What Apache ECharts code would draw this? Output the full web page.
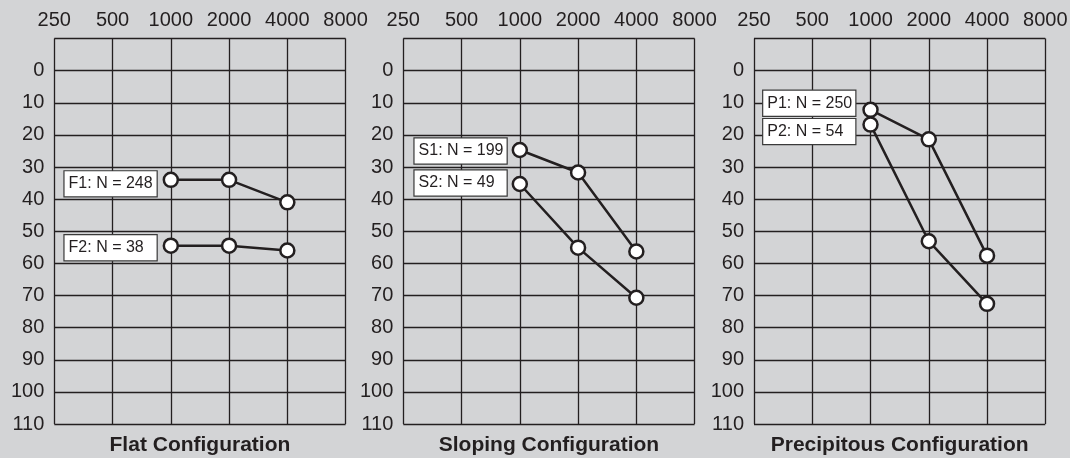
<!DOCTYPE html>
<html><head><meta charset="utf-8">
<style>html,body{margin:0;padding:0;background:#d3d4d6;}#c{width:1070px;height:458px;}</style>
<script src="https://cdn.jsdelivr.net/npm/echarts@6/dist/echarts.min.js"></script>
</head><body><div id="c"></div>
<script>
const freqs = ['250','500','1000','2000','4000','8000'];
const yTicks = [-10,0,10,20,30,40,50,60,70,80,90,100,110];
const titles = ['Flat Configuration','Sloping Configuration','Precipitous Configuration'];
const F1 = [null,null,34,34,41,null];
const F2 = [null,null,54.5,54.5,56,null];
const S1 = [null,null,24.7,31.7,56.3,null];
const S2 = [null,null,35.3,55.1,70.7,null];
const P1 = [null,null,12.2,21.4,57.6,null];
const P2 = [null,null,16.8,53.1,72.6,null];
const seriesDefs = [
  {name:'F1: N = 248', data:F1, panel:0, dy:4},
  {name:'F2: N = 38', data:F2, panel:0, dy:2},
  {name:'S1: N = 199', data:S1, panel:1, dy:1},
  {name:'S2: N = 49', data:S2, panel:1, dy:-1},
  {name:'P1: N = 250', data:P1, panel:2, dy:-6.5},
  {name:'P2: N = 54', data:P2, panel:2, dy:7}
];
const ink = '#231f20';
const font = 'Liberation Sans, Arial, sans-serif';
const lefts = [54.3, 403.3, 754];
const labelDist = [6, 5, 7];
const grids = [], xAxes = [], yAxes = [];
for (let i=0;i<3;i++){
  grids.push({left:lefts[i], width:291.3, top:38.5, height:385.5, outerBoundsMode:'none', containLabel:false});
  xAxes.push({type:'category', gridIndex:i, position:'top', data:freqs, boundaryGap:false,
    axisLine:{show:false}, axisTick:{show:false},
    axisLabel:{color:ink, fontSize:20, fontFamily:font, margin:8, interval:0},
    splitLine:{show:true, interval:0, lineStyle:{color:ink, width:1.3}}});
  xAxes.push({type:'category', gridIndex:i, position:'bottom', data:freqs, boundaryGap:false,
    axisLine:{show:false}, axisTick:{show:false}, axisLabel:{show:false}, splitLine:{show:false},
    name:titles[i], nameLocation:'middle', nameGap:11,
    nameTextStyle:{color:ink, fontSize:21, fontWeight:'bold', fontFamily:font}});
  yAxes.push({type:'value', gridIndex:i, inverse:true, min:-10, max:110, interval:10,
    axisLine:{show:false}, axisTick:{show:false},
    axisLabel:{color:ink, fontSize:20, fontFamily:font, margin:10,
      formatter:v => v===yTicks[0] ? '' : String(v)},
    splitLine:{show:true, lineStyle:{color:ink, width:1.3}}});
}
const series = seriesDefs.map(s => ({
  type:'line', name:s.name, xAxisIndex:s.panel*2, yAxisIndex:s.panel,
  data:s.data.map((v,k) => {
    if (v===null) return null;
    if (k===2) return {value:v, label:{show:true, position:'left', distance:labelDist[s.panel], offset:[0,s.dy],
      formatter:'{t|' + s.name + '}',
      rich:{t:{color:ink, fontSize:16, fontFamily:font, width:84, align:'left', lineHeight:17}},
      backgroundColor:'#ffffff', borderColor:'#3a3a3a', borderWidth:1.2,
      padding:[4,4,4,4]}};
    return v;
  }),
  symbol:'circle', symbolSize:14, showAllSymbol:true,
  itemStyle:{color:'#ffffff', borderColor:ink, borderWidth:2.5},
  lineStyle:{color:ink, width:2.5},
  label:{show:false}, animation:false, z:5
}));
const chart = echarts.init(document.getElementById('c'), null, {renderer:'canvas'});
chart.setOption({backgroundColor:'#d3d4d6', animation:false, grid:grids, xAxis:xAxes, yAxis:yAxes, series:series});
</script></body></html>
